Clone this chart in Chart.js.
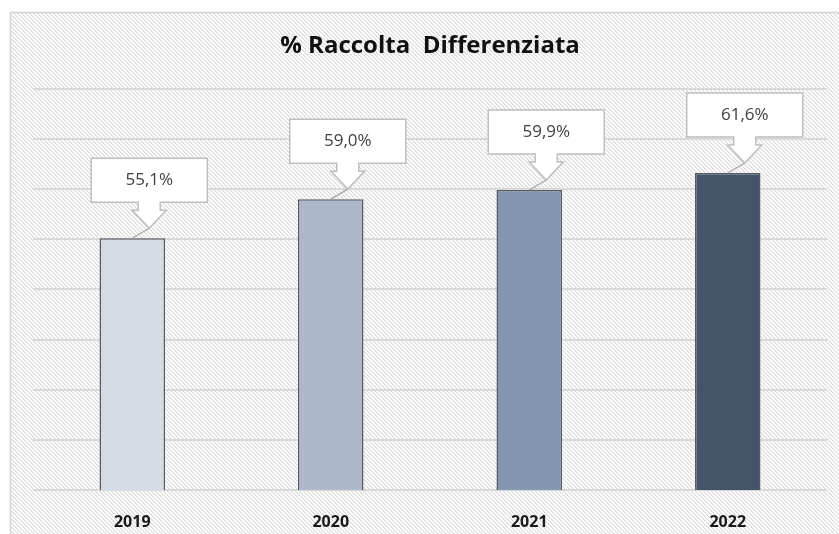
<!DOCTYPE html>
<html>
<head>
<meta charset="utf-8">
<script src="https://cdn.jsdelivr.net/npm/chart.js@4/dist/chart.umd.min.js"></script>
<style>
  html, body { margin: 0; padding: 0; background: #ffffff; }
  #wrap { width: 839px; height: 534px; position: relative; }
</style>
</head>
<body>
<div id="wrap"><canvas id="c" width="839" height="534"></canvas></div>
<script>
const categories = ['2019', '2020', '2021', '2022'];
const values = [55.1, 59.0, 59.9, 61.6];
const valueLabels = ['55,1%', '59,0%', '59,9%', '61,6%'];
const barColors = ['#D6DCE5', '#ADB9CA', '#8497B0', '#44546A'];
const yMin = 30, yMax = 70, yStep = 5;

// hatch pattern
function makePattern(ctx) {
  const p = document.createElement('canvas');
  p.width = 8; p.height = 8;
  const pc = p.getContext('2d');
  pc.fillStyle = '#ffffff';
  pc.fillRect(0, 0, 8, 8);
  for (let y = 0; y < 8; y++) {
    for (let x = 0; x < 8; x++) {
      const m = ((x - y) % 4 + 4) % 4;
      if (m === 0) { pc.fillStyle = '#D8D8D8'; pc.fillRect(x, y, 1, 1); }
      else if (m === 1) { pc.fillStyle = '#EDEDED'; pc.fillRect(x, y, 1, 1); }
    }
  }
  return ctx.createPattern(p, 'repeat');
}

const framePlugin = {
  id: 'frame',
  beforeDraw(chart) {
    const ctx = chart.ctx;
    ctx.save();
    ctx.fillStyle = '#ffffff';
    ctx.fillRect(0, 0, chart.width, chart.height);
    ctx.fillStyle = makePattern(ctx);
    ctx.fillRect(10, 12, chart.width, chart.height);
    ctx.strokeStyle = '#D4D4D4';
    ctx.lineWidth = 1.5;
    ctx.strokeRect(10.5, 12.5, chart.width + 10, chart.height + 10);
    ctx.restore();
  }
};

const calloutPlugin = {
  id: 'callouts',
  afterDatasetsDraw(chart) {
    const ctx = chart.ctx;
    const meta = chart.getDatasetMeta(0);
    ctx.save();
    meta.data.forEach((bar, i) => {
      const bx = bar.x, by = bar.y;
      const cx = bx + 17;
      const w = 116, h = 44;
      const left = cx - w / 2, right = cx + w / 2;
      const top = by - 80, bottom = by - 36;
      const stemHalf = 11, headHalf = 17;
      const stemBottom = bottom + 8;
      const tipY = by - 10;
      // leader line
      ctx.strokeStyle = '#A6A6A6';
      ctx.lineWidth = 1.2;
      ctx.beginPath();
      ctx.moveTo(cx, tipY);
      ctx.lineTo(bx, by);
      ctx.stroke();
      // callout shape
      ctx.beginPath();
      ctx.moveTo(left, top);
      ctx.lineTo(right, top);
      ctx.lineTo(right, bottom);
      ctx.lineTo(cx + stemHalf, bottom);
      ctx.lineTo(cx + stemHalf, stemBottom);
      ctx.lineTo(cx + headHalf, stemBottom);
      ctx.lineTo(cx, tipY);
      ctx.lineTo(cx - headHalf, stemBottom);
      ctx.lineTo(cx - stemHalf, stemBottom);
      ctx.lineTo(cx - stemHalf, bottom);
      ctx.lineTo(left, bottom);
      ctx.closePath();
      ctx.fillStyle = '#ffffff';
      ctx.fill();
      ctx.strokeStyle = '#BFBFBF';
      ctx.lineWidth = 1.5;
      ctx.stroke();
      // text
      ctx.fillStyle = '#404040';
      ctx.font = '17px "Open Sans", "Liberation Sans", sans-serif';
      ctx.textAlign = 'center';
      ctx.textBaseline = 'middle';
      ctx.fillText(valueLabels[i], cx, (top + bottom) / 2);
    });
    ctx.restore();
  }
};

new Chart(document.getElementById('c'), {
  type: 'bar',
  data: {
    labels: categories,
    datasets: [{
      data: values,
      backgroundColor: barColors,
      borderColor: '#565B62',
      borderWidth: 1.5,
      categoryPercentage: 1,
      barPercentage: 0.33
    }]
  },
  options: {
    responsive: false,
    animation: false,
    devicePixelRatio: 1,
    layout: { padding: { left: 33, right: 12, top: 0, bottom: 0 } },
    plugins: {
      legend: { display: false },
      tooltip: { enabled: false },
      title: {
        display: true,
        text: '% Raccolta  Differenziata',
        color: '#111111',
        font: { family: '"Open Sans", "Liberation Sans", sans-serif', size: 24, weight: 'bold' },
        padding: { top: 32, bottom: 28 }
      }
    },
    scales: {
      x: {
        grid: { display: false },
        border: { display: false },
        ticks: {
          color: '#1a1a1a',
          font: { family: '"Open Sans", "Liberation Sans", sans-serif', size: 16, weight: 'bold' },
          padding: 15
        },
        afterFit(s) { s.height = 44; }
      },
      y: {
        min: yMin, max: yMax,
        ticks: { display: false, stepSize: yStep },
        border: { display: false },
        grid: { color: '#D9D9D9', lineWidth: 2, drawTicks: false },
        afterFit(s) { s.width = 0; }
      }
    }
  },
  plugins: [framePlugin, calloutPlugin]
});
</script>
</body>
</html>
